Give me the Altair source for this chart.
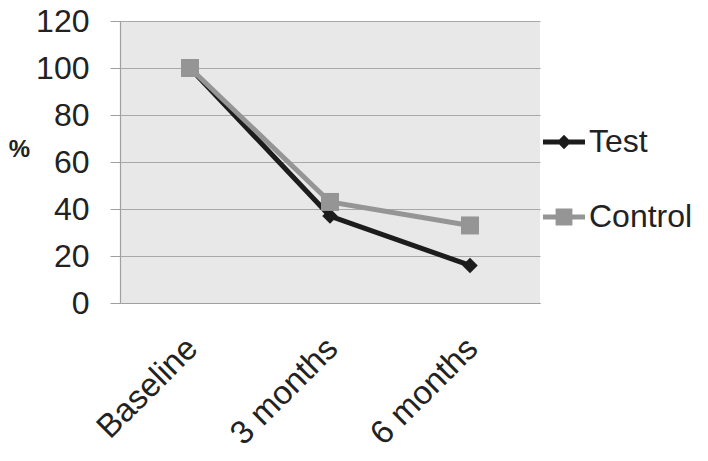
import altair as alt
import pandas as pd

categories = ["Baseline", "3 months", "6 months"]
series_names = ["Test", "Control"]
test_values = [100, 37, 16]
control_values = [100, 43, 33]
y_ticks = [0, 20, 40, 60, 80, 100, 120]

rows = []
for c, v in zip(categories, test_values):
    rows.append({"time": c, "value": v, "series": "Test"})
for c, v in zip(categories, control_values):
    rows.append({"time": c, "value": v, "series": "Control"})
df = pd.DataFrame(rows)

FONT = "Liberation Sans"
colors = ["#1c1c1c", "#959595"]

test_sym = "M-1,-0.12H1V0.12H-1Z M0,-0.34L0.34,0L0,0.34L-0.34,0Z"
ctrl_sym = "M-1,-0.12H1V0.12H-1Z M-0.4,-0.4H0.4V0.4H-0.4Z"

x_enc = alt.X(
    "time:N", sort=categories, title=None,
    scale=alt.Scale(type="point", padding=0.5),
    axis=alt.Axis(labelAngle=-45, labelAlign="right", labelBaseline="middle",
                  labelFontSize=33, labelFont=FONT, labelColor="#222222",
                  labelPadding=40, labelOffset=2, ticks=False,
                  domainColor="#a0a0a0", domainWidth=1.2, grid=False),
)
y_enc = alt.Y(
    "value:Q", scale=alt.Scale(domain=[0, 120]),
    axis=alt.Axis(values=y_ticks, title="%", titleAngle=0, titleFontSize=24,
                  titleFontWeight="bold", titleFont=FONT, titleColor="#222222",
                  titleX=-101, titleY=128, titleAlign="center", titleBaseline="middle",
                  labelFontSize=32, labelFont=FONT, labelColor="#222222",
                  tickSize=10, tickColor="#a0a0a0", labelPadding=21,
                  gridColor="#a8a8a8", gridWidth=1.2,
                  domainColor="#a0a0a0", domainWidth=1.2),
)

legend = alt.Legend(
    orient="none", legendX=423, legendY=100, title=None,
    labelFontSize=32, labelFont=FONT, labelColor="#222222",
    symbolSize=1764, rowPadding=38, labelOffset=4,
    symbolStrokeWidth=0, symbolOpacity=1,
)

color_scale = alt.Scale(domain=series_names, range=colors)
shape_scale = alt.Scale(domain=series_names, range=[test_sym, ctrl_sym])

base = alt.Chart(df).encode(x=x_enc, y=y_enc)

test_line = base.transform_filter("datum.series === 'Test'").mark_line(strokeWidth=5, color=colors[0])
test_pts = base.transform_filter("datum.series === 'Test'").mark_point(
    shape="diamond", filled=True, size=240, opacity=1, color=colors[0])
ctrl_line = base.transform_filter("datum.series === 'Control'").mark_line(strokeWidth=5, color=colors[1])
ctrl_pts = base.transform_filter("datum.series === 'Control'").mark_point(
    shape="square", filled=True, size=324, opacity=1, color=colors[1])
legend_layer = base.transform_filter("false").mark_point(filled=True, opacity=1).encode(
    color=alt.Color("series:N", scale=color_scale, legend=legend),
    shape=alt.Shape("series:N", scale=shape_scale, legend=legend),
)

chart = alt.layer(test_line, test_pts, ctrl_line, ctrl_pts, legend_layer).properties(
    width=420, height=282,
    autosize=alt.AutoSizeParams(type="none"),
    padding={"left": 112, "top": 13, "right": 160, "bottom": 150},
).configure(background="white").configure_view(fill="#e8e8e8", stroke=None)

chart.save("out.html", embed_options={"renderer": "svg", "actions": False})
